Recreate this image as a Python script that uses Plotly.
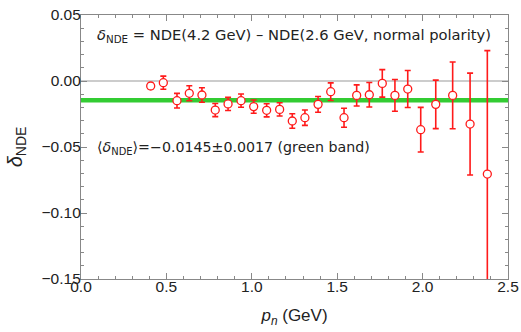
import plotly.graph_objects as go

p_n = [0.408, 0.482, 0.562, 0.634, 0.708, 0.786, 0.861, 0.937, 1.011, 1.087, 1.163,
       1.237, 1.311, 1.388, 1.462, 1.540, 1.614, 1.688, 1.764, 1.838, 1.913, 1.989,
       2.077, 2.176, 2.278, 2.379]
delta = [-0.0038, -0.0013, -0.0149, -0.0093, -0.0106, -0.0220, -0.0174, -0.0149, -0.0194,
         -0.0222, -0.0215, -0.0303, -0.0278, -0.0177, -0.0081, -0.0278, -0.0109, -0.0104,
         -0.0018, -0.0109, -0.0061, -0.0369, -0.0177, -0.0109, -0.0326, -0.0705]
err = [0.0020, 0.0050, 0.0055, 0.0057, 0.0055, 0.0050, 0.0050, 0.0050, 0.0050,
       0.0050, 0.0050, 0.0055, 0.0058, 0.0060, 0.0067, 0.0072, 0.0080, 0.0093,
       0.0104, 0.0120, 0.0140, 0.0169, 0.0184, 0.0253, 0.0386, 0.0935]

mean_val = -0.0145
mean_err = 0.0017

x_ticks = [0.0, 0.5, 1.0, 1.5, 2.0, 2.5]
y_ticks = [0.05, 0.00, -0.05, -0.10, -0.15]

fig = go.Figure()

fig.add_trace(go.Scatter(
    x=p_n, y=delta, mode="markers",
    marker=dict(symbol="circle", size=8, color="white",
                line=dict(color="#ff1a1a", width=1.3)),
    error_y=dict(type="data", array=err, visible=True, color="#ff1a1a",
                 thickness=1.6, width=3),
    showlegend=False, cliponaxis=True, hoverinfo="skip",
))

fig.add_shape(type="rect", xref="paper", yref="y", x0=0, x1=1,
              y0=mean_val - mean_err, y1=mean_val + mean_err,
              fillcolor="#33cc33", line=dict(width=0), layer="below")
fig.add_shape(type="line", xref="paper", yref="y", x0=0, x1=1, y0=0, y1=0,
              line=dict(color="#999999", width=1), layer="below")

font_family = "Liberation Sans, Arial, sans-serif"
ann_family = "DejaVu Sans, sans-serif"

fig.add_annotation(
    x=0.033, y=0.05 - 0.0155, xref="paper", yref="y", xanchor="left", yanchor="middle",
    text="<i>δ</i><sub>NDE</sub> = NDE(4.2 GeV) – NDE(2.6 GeV, normal polarity)",
    showarrow=False, font=dict(size=14.7, color="#222", family=ann_family))
fig.add_annotation(
    x=0.033, y=-0.0505, xref="paper", yref="y", xanchor="left", yanchor="middle",
    text="⟨<i>δ</i><sub>NDE</sub>⟩=−0.0145±0.0017 (green band)",
    showarrow=False, font=dict(size=14.2, color="#222", family=ann_family))

axis_common = dict(
    showline=True, linecolor="#888888", linewidth=1.2, mirror="ticks",
    ticks="inside", ticklen=6, tickwidth=1, tickcolor="#888888",
    showgrid=False, zeroline=False, automargin=False,
    tickfont=dict(size=15.5, color="#222", family=font_family),
)

fig.update_xaxes(
    range=[0, 2.5], tickvals=x_ticks, ticktext=[f"{v:.1f}" for v in x_ticks],
    ticklabelstandoff=-7,
    minor=dict(dtick=0.1, ticklen=3, tickcolor="#888888", ticks="inside"),
    title=dict(text="<i>p</i><sub><i>n</i></sub> (GeV)", standoff=15,
               font=dict(size=17, color="#222", family=font_family)),
    **axis_common)
fig.update_yaxes(
    range=[-0.15, 0.05], tickvals=y_ticks,
    ticktext=[("−" if v < 0 else "") + f"{abs(v):.2f}" for v in y_ticks],
    ticklabelstandoff=-4,
    minor=dict(dtick=0.01, ticklen=3, tickcolor="#888888", ticks="inside"),
    title=dict(text="<i>δ</i><sub>NDE</sub>", standoff=13,
               font=dict(size=20, color="#222", family=font_family)),
    **axis_common)

fig.update_layout(
    width=521, height=332,
    margin=dict(l=81, r=13, t=15, b=53),
    plot_bgcolor="white", paper_bgcolor="white",
)

fig.write_html("out.html", config={"displayModeBar": False},
               post_script="document.body.style.margin='0';document.body.style.overflow='hidden';")
